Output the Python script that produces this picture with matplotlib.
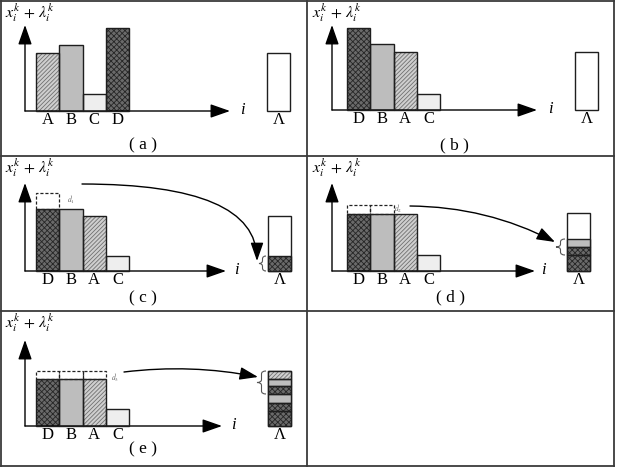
import numpy as np
import matplotlib
matplotlib.use('Agg')
import matplotlib.pyplot as plt
from matplotlib.path import Path
from matplotlib.patches import PathPatch

plt.rcParams['font.family'] = ['Liberation Serif', 'DejaVu Serif']
plt.rcParams['mathtext.fontset'] = 'stix'
plt.rcParams['hatch.linewidth'] = 0.6

# ---- data ----
panel_a_order = ['A', 'B', 'C', 'D']
panel_a_height = [58, 66, 17, 83]
panel_a_lambda = 58

panel_b_order = ['D', 'B', 'A', 'C']
panel_b_height = [82, 66, 58, 16]
panel_b_lambda = 58

panel_c_order = ['D', 'B', 'A', 'C']
panel_c_height = [62, 62, 55, 15]
panel_c_before = [78, 62, 55, 15]
panel_c_lambda = 55
panel_c_stack = ['D']
panel_c_stack_h = [15]

panel_d_order = ['D', 'B', 'A', 'C']
panel_d_height = [57, 57, 57, 16]
panel_d_before = [66, 66, 57, 16]
panel_d_lambda = 58
panel_d_stack = ['D', 'D', 'B']
panel_d_stack_h = [16, 8, 8]

panel_e_order = ['D', 'B', 'A', 'C']
panel_e_height = [47, 47, 47, 17]
panel_e_before = [55, 55, 55, 17]
panel_e_lambda = 55
panel_e_stack = ['D', 'D', 'B', 'D', 'B', 'A']
panel_e_stack_h = [15, 8, 9, 8, 7, 8]

titles = ['( a )', '( b )', '( c )', '( d )', '( e )']
d_labels = [None, None, r'$d_1$', r'$d_2$', r'$d_3$']

# ---- styles ----
styles = {
    'A': dict(face='#cfcfcf', hatch='////////', hcol='#707070'),
    'B': dict(face='#bdbdbd', hatch=None, hcol=None),
    'C': dict(face='#eeeeee', hatch=None, hcol=None),
    'D': dict(face='#6a6a6a', hatch='xxxxxx', hcol='#262626'),
}
EDGE = '#1e1e1e'
W, H = 618, 467
BW = 23.3


def styled_bar(ax, x, h, bottom, cat, width=BW):
    st = styles[cat]
    ax.bar(x, h, width=width, bottom=bottom, align='edge', color=st['face'],
           linewidth=0, zorder=2)
    if st['hatch']:
        ax.bar(x, h, width=width, bottom=bottom, align='edge', fill=False,
               hatch=st['hatch'], edgecolor=st['hcol'], linewidth=0, zorder=3)
    ax.bar(x, h, width=width, bottom=bottom, align='edge', fill=False,
           edgecolor=EDGE, linewidth=1.0, zorder=4)


def brace(ax, xl, xr, y0, y1):
    ym = (y0 + y1) / 2
    xm = (xl + xr) / 2
    r = min(3.0, (y1 - y0) / 4)
    verts = [(xr, y1), (xm, y1), (xm, y1 - r), (xm, ym + r), (xm, ym), (xl, ym),
             (xm, ym), (xm, ym - r), (xm, y0 + r), (xm, y0), (xr, y0)]
    codes = [Path.MOVETO, Path.CURVE3, Path.CURVE3, Path.LINETO, Path.CURVE3, Path.CURVE3,
             Path.CURVE3, Path.CURVE3, Path.LINETO, Path.CURVE3, Path.CURVE3]
    ax.add_patch(PathPatch(Path(verts, codes), fill=False, edgecolor='#555555', lw=0.8))


def arrow(ax, start, end, style='arc3', lw=1.0, scale=15):
    ax.annotate('', xy=end, xytext=start,
                arrowprops=dict(arrowstyle='-|>,head_length=0.8,head_width=0.28',
                                color='black', lw=lw, mutation_scale=scale,
                                shrinkA=0, shrinkB=0, connectionstyle=style))


fig = plt.figure(figsize=(W / 100, H / 100), dpi=100)
bg = fig.add_axes([0, 0, 1, 1])
bg.set_xlim(0, W)
bg.set_ylim(H, 0)
bg.axis('off')
for yy in [1, 156, 311, 466]:
    bg.plot([1, 614], [yy, yy], color='#3a3a3a', lw=1.3)
for xx in [1, 307, 614]:
    bg.plot([xx, xx], [1, 466], color='#3a3a3a', lw=1.3)

# layout of each panel: cell (x0, y0, x1, y1) in pixels, then local geometry
layout = [
    dict(cell=(0, 1, 307, 156), base=45, bar_x0=36, lam_x=267, ytip=131, xtip=230, i_x=242, title_y=11),
    dict(cell=(307, 1, 614, 156), base=46, bar_x0=40, lam_x=268, ytip=131, xtip=230, i_x=243, title_y=11),
    dict(cell=(0, 156, 307, 311), base=40, bar_x0=36, lam_x=268, ytip=128, xtip=226, i_x=236, title_y=13),
    dict(cell=(307, 156, 614, 311), base=40, bar_x0=40, lam_x=260, ytip=128, xtip=228, i_x=236, title_y=14),
    dict(cell=(0, 311, 307, 467), base=41, bar_x0=36, lam_x=268, ytip=127, xtip=222, i_x=233, title_y=18),
]

panels = [
    (panel_a_order, panel_a_height, None, panel_a_lambda, [], []),
    (panel_b_order, panel_b_height, None, panel_b_lambda, [], []),
    (panel_c_order, panel_c_height, panel_c_before, panel_c_lambda, panel_c_stack, panel_c_stack_h),
    (panel_d_order, panel_d_height, panel_d_before, panel_d_lambda, panel_d_stack, panel_d_stack_h),
    (panel_e_order, panel_e_height, panel_e_before, panel_e_lambda, panel_e_stack, panel_e_stack_h),
]

for k, (lay, (order, heights, before, lam, stack, stack_h)) in enumerate(zip(layout, panels)):
    cx0, cy0, cx1, cy1 = lay['cell']
    cw, ch = cx1 - cx0, cy1 - cy0
    ax = fig.add_axes([cx0 / W, 1 - cy1 / H, cw / W, ch / H])
    ax.set_xlim(0, cw)
    ax.set_ylim(0, ch)
    ax.axis('off')
    base = lay['base']
    xs = lay['bar_x0'] + np.arange(len(order)) * BW

    for x, h, cat in zip(xs, heights, order):
        styled_bar(ax, x, h, base, cat)
        ax.text(x + BW / 2, base - 9, cat, ha='center', va='center', fontsize=12)
    if before is not None:
        for x, h, hb in zip(xs, heights, before):
            if hb > h:
                ax.bar(x, hb - h, width=BW, bottom=base + h, align='edge', fill=False,
                       edgecolor='#222222', linestyle=(0, (2.5, 1.5)), linewidth=0.9, zorder=4)

    # Lambda column
    lx = lay['lam_x']
    ax.bar(lx, lam, width=BW, bottom=base, align='edge', color='white',
           edgecolor=EDGE, linewidth=1.0, zorder=1)
    bottoms = base + np.concatenate([[0], np.cumsum(stack_h)[:-1]]) if stack else []
    for b, h, cat in zip(bottoms, stack_h, stack):
        styled_bar(ax, lx, h, b, cat)
    ax.text(lx + BW / 2, base - 9, '\u039b', ha='center', va='center', fontsize=12)

    # axes arrows
    arrow(ax, (25, base), (lay['xtip'], base))
    arrow(ax, (25, base), (25, lay['ytip']))
    ax.text(lay['i_x'], base + 1, 'i', style='italic', fontsize=12, ha='center', va='center')
    ax.text(30, ch - 12, r'$x_i^k\,+\,\lambda_i^k$', ha='center', va='center', fontsize=11.5)
    ax.text(143 if k != 1 else 147, lay['title_y'], titles[k], ha='center', va='center', fontsize=12.5)

    if stack:
        top_total = base + sum(stack_h)
        if k == 2:
            brace(ax, lx - 9, lx - 2, base, top_total)
            ax.text(71, 111, d_labels[k], fontsize=5.5, color='#666666', ha='center', va='center')
            arrow(ax, (82, 127), (lx - 11, base + 10), style='angle3,angleA=0,angleB=90', scale=14)
        elif k == 3:
            brace(ax, lx - 11, lx - 2, base + stack_h[0], top_total)
            ax.text(91, 102, d_labels[k], fontsize=5.5, color='#666666', ha='center', va='center')
            arrow(ax, (103, 105), (lx - 12, base + 29), style='arc3,rad=-0.12', scale=14)
        else:
            brace(ax, lx - 11, lx - 2, base + sum(stack_h[:3]), top_total)
            ax.text(115, 89, d_labels[k], fontsize=5.5, color='#666666', ha='center', va='center')
            arrow(ax, (124, 95), (lx - 10, 90), style='arc3,rad=-0.08', scale=14)

fig.savefig('out.png', dpi=100)
